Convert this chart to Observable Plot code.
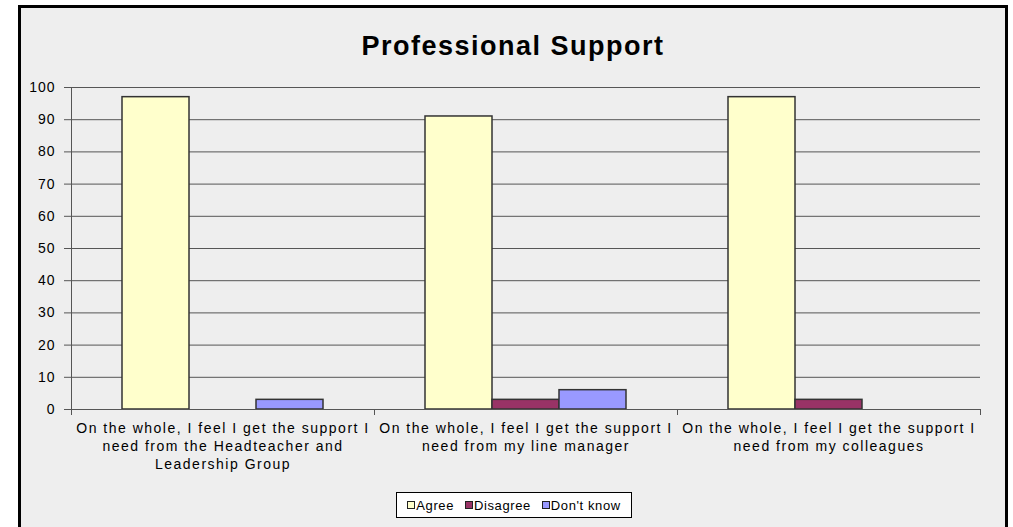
<!DOCTYPE html>
<html>
<head>
<meta charset="utf-8">
<script src="https://cdn.jsdelivr.net/npm/d3@7"></script>
<script src="https://cdn.jsdelivr.net/npm/@observablehq/plot@0.6"></script>
<style>
  html, body { margin: 0; padding: 0; background: #ffffff; width: 1013px; height: 527px; overflow: hidden; }
  body { position: relative; font-family: "Liberation Sans", Arial, sans-serif; }
  #box { position: absolute; left: 18px; top: 5px; width: 984px; height: 600px; border: 3px solid #000; background: #eeeeee; }
  #title { position: absolute; left: 18px; width: 990px; top: 33px; text-align: center; font-size: 27px; line-height: 27px; font-weight: bold; color: #000; letter-spacing: 1.5px; }
  #chart { position: absolute; left: 0; top: 0; }
  #chart g[aria-label="text"] text { letter-spacing: 1.5px; }
  #chart g[aria-label="y-axis tick label"] text { letter-spacing: 1px; }
  #legend { position: absolute; left: 396px; top: 492px; width: 234px; height: 24px; border: 1px solid #000; background: #fff;
            display: flex; align-items: center; justify-content: center; font-size: 13px; color: #000; gap: 11px; letter-spacing: 0.6px; }
  .item { display: flex; align-items: center; }
  .sw { display: inline-block; width: 6px; height: 6px; border: 1px solid #222; margin-right: 1px; }
</style>
</head>
<body>
<div id="box"></div>
<div id="title">Professional Support</div>
<div id="chart"></div>
<div id="legend"></div>
<script>
const categories = [
  "On the whole, I feel I get the support I need from the Headteacher and Leadership Group",
  "On the whole, I feel I get the support I need from my line manager",
  "On the whole, I feel I get the support I need from my colleagues"
];
const categoryLabels = [
  "On the whole, I feel I get the support I\nneed from the Headteacher and\nLeadership Group",
  "On the whole, I feel I get the support I\nneed from my line manager",
  "On the whole, I feel I get the support I\nneed from my colleagues"
];
const series = ["Agree", "Disagree", "Don't know"];
const agree = [97, 91, 97];
const disagree = [0, 3, 3];
const dontKnow = [3, 6, 0];
const seriesColors = ["#FFFFCC", "#993366", "#9999FF"];
const yTicks = [0, 10, 20, 30, 40, 50, 60, 70, 80, 90, 100];

const seriesValues = [agree, disagree, dontKnow];
const data = [];
categories.forEach((c, i) => {
  series.forEach((s, j) => {
    data.push({cat: c, series: s, value: seriesValues[j][i]});
  });
});

const H = 480, MT = 87, MB = 71;
const chart = Plot.plot({
  width: 1013,
  height: H,
  marginLeft: 70,
  marginRight: 33,
  marginTop: MT,
  marginBottom: MB,
  style: {background: "transparent", fontFamily: "'Liberation Sans', Arial, sans-serif", color: "#000", overflow: "visible"},
  fx: {domain: categories, padding: 0, axis: null, label: null},
  x: {domain: series, paddingInner: 0, paddingOuter: 0.75, axis: null},
  y: {domain: [0, 100], axis: null},
  color: {domain: series, range: seriesColors},
  marks: [
    Plot.gridY(yTicks.filter(v => v > 0), {stroke: "#555", strokeOpacity: 1}),
    Plot.barY(data.filter(d => d.value > 0), {fx: "cat", x: "series", y: "value", fill: "series", stroke: "#333", strokeWidth: 1.5}),
    Plot.ruleY([0], {stroke: "#555"}),
    Plot.frame({anchor: "left", facetAnchor: "left", stroke: "#555", insetBottom: -5}),
    Plot.frame({anchor: "right", stroke: "#555", insetTop: H - MT - MB, insetBottom: -5}),
    Plot.axisY(yTicks, {anchor: "left", tickSize: 7, tickPadding: 9, fontSize: 14, stroke: "#555", label: null}),
    Plot.text(categories, {fx: d => d, text: d => categoryLabels[categories.indexOf(d)], frameAnchor: "bottom", lineAnchor: "top", dy: 11, fontSize: 14, lineHeight: 1.29, fill: "#000"})
  ]
});
document.getElementById("chart").appendChild(chart);

const legend = document.getElementById("legend");
series.forEach((s, j) => {
  const item = document.createElement("span");
  item.className = "item";
  const sw = document.createElement("span");
  sw.className = "sw";
  sw.style.background = seriesColors[j];
  item.appendChild(sw);
  item.appendChild(document.createTextNode(s));
  legend.appendChild(item);
});
</script>
</body>
</html>
